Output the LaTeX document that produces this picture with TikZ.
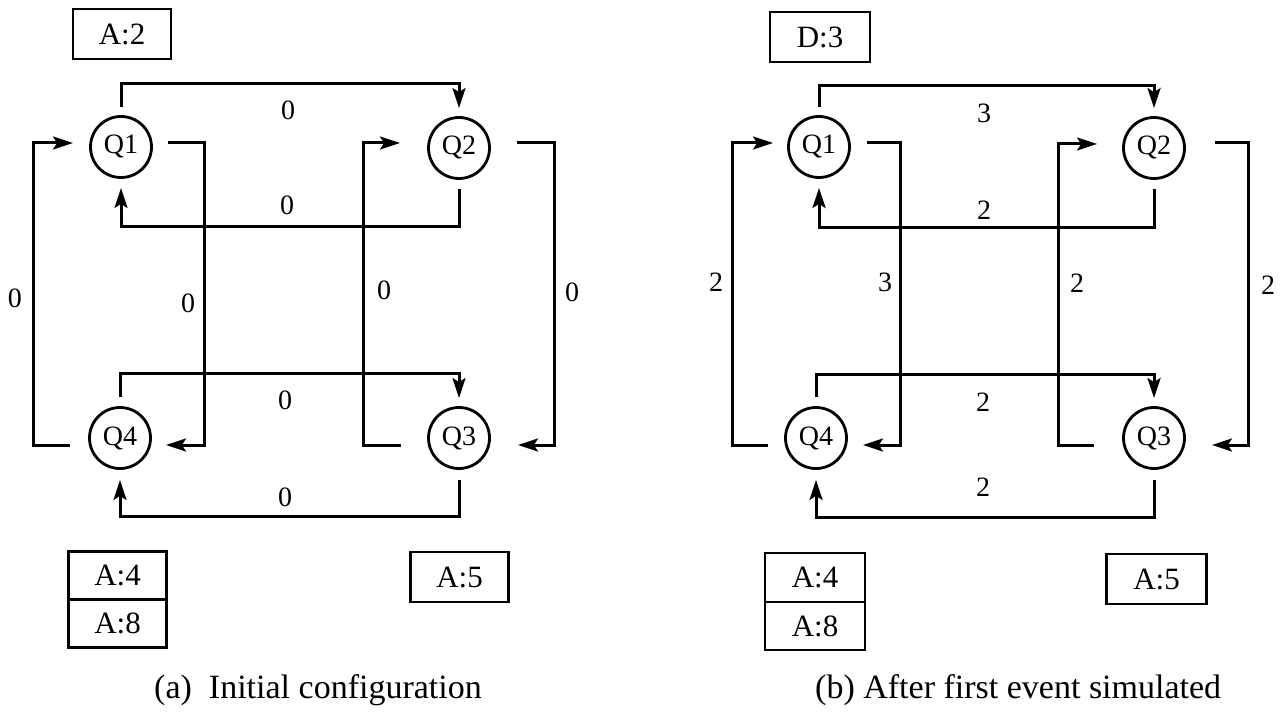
\documentclass[tikz,border=0pt]{standalone}
\usepackage{fontspec}
\setmainfont{Liberation Serif}
\usetikzlibrary{arrows.meta,calc}
\begin{document}
\begin{tikzpicture}[x=1pt,y=-1pt,
  queue/.style={circle,draw,line width=2.8pt,minimum size=61pt,inner sep=0pt,font=\fontsize{28}{30}\selectfont},
  conn/.style={line width=3pt,-{Stealth[length=20pt,width=13pt,inset=4pt]}},
  lbl/.style={inner sep=0pt,font=\fontsize{28}{30}\selectfont},
  evbox/.style={draw,line width=2.6pt,minimum width=98pt,minimum height=50pt,inner sep=0pt,font=\fontsize{31}{33}\selectfont},
  captext/.style={inner sep=0pt,anchor=base west,font=\fontsize{34}{36}\selectfont}]
\useasboundingbox[fill=white] (0,0) rectangle (1286,714);

% ---------- (a) initial configuration ----------
\node[queue] (a1) at (121,147) {Q1};
\node[queue] (a2) at (459,148) {Q2};
\node[queue] (a3) at (459,438) {Q3};
\node[queue] (a4) at (120,438) {Q4};

\draw[conn] ([yshift=8pt]a1.north) -- ++(0,-24) -| ([yshift=8pt]a2.north);
\draw[conn] ([yshift=-9pt]a2.south) -- ++(0,38) -| ([yshift=-9pt]a1.south);
\draw[conn] ($(a1.east)+(15,-4)$) -- ++(37,0) |- ($(a4.east)+(14,7)$);
\draw[conn] ($(a4.west)+(-18,7)$) -- ++(-37,0) |- ($(a1.west)+(-16,-4)$);
\draw[conn] ($(a3.west)+(-26,7)$) -- ++(-38,0) |- ($(a2.west)+(-27,-5)$);
\draw[conn] ($(a2.east)+(26,-5)$) -- ++(38,0) |- ($(a3.east)+(27,7)$);
\draw[conn] ([yshift=9pt]a4.north) -- ++(0,-24) -| ([yshift=8pt]a3.north);
\draw[conn] ([yshift=-10pt]a3.south) -- ++(0,37) -| ([yshift=-10pt]a4.south);

\node[lbl] (la12) at (288,110) {0};
\node[lbl] (la21) at (287,205) {0};
\node[lbl] (la41) at (15,298) {0};
\node[lbl] (la14) at (188,303) {0};
\node[lbl] (la32) at (384,290) {0};
\node[lbl] (la23) at (572,292) {0};
\node[lbl] (la43) at (285,400) {0};
\node[lbl] (la34) at (285,497) {0};

\node[evbox] (ea2) at (122,34) {A:2};
\node[evbox,minimum height=48pt] (ea4) at (117.5,575.5) {A:4};
\node[evbox,minimum height=48pt] (ea8) at (117.5,623.5) {A:8};
\node[evbox] (ea5) at (459.5,577) {A:5};

\node[captext] (capa) at (154,698) {(a)\ \ Initial configuration};

% ---------- (b) after first event ----------
\node[queue] (b1) at (819,147) {Q1};
\node[queue] (b2) at (1154,148) {Q2};
\node[queue] (b3) at (1154,438) {Q3};
\node[queue] (b4) at (816,438) {Q4};

\draw[conn] ([yshift=8pt]b1.north) -- ++(0,-22) -| ([yshift=8pt]b2.north);
\draw[conn] ([yshift=-9pt]b2.south) -- ++(0,39) -| ([yshift=-9pt]b1.south);
\draw[conn] ($(b1.east)+(16,-4)$) -- ++(34,0) |- ($(b4.east)+(15,7)$);
\draw[conn] ($(b4.west)+(-16,7)$) -- ++(-36,0) |- ($(b1.west)+(-14,-4)$);
\draw[conn] ($(b3.west)+(-28,7)$) -- ++(-36,0) |- ($(b2.west)+(-25,-4)$);
\draw[conn] ($(b2.east)+(29,-5)$) -- ++(34,0) |- ($(b3.east)+(26,7)$);
\draw[conn] ([yshift=9pt]b4.north) -- ++(0,-23) -| ([yshift=8pt]b3.north);
\draw[conn] ([yshift=-10pt]b3.south) -- ++(0,38) -| ([yshift=-10pt]b4.south);

\node[lbl] (lb12) at (984,113) {3};
\node[lbl] (lb21) at (984,210) {2};
\node[lbl] (lb41) at (716,282) {2};
\node[lbl] (lb14) at (885,282) {3};
\node[lbl] (lb32) at (1077,283) {2};
\node[lbl] (lb23) at (1268,285) {2};
\node[lbl] (lb43) at (983,402) {2};
\node[lbl] (lb34) at (983,487) {2};

\node[evbox,minimum width=100pt] (ed3) at (820,37) {D:3};
\node[evbox,minimum width=100pt,minimum height=49pt] (eb4) at (815,577.5) {A:4};
\node[evbox,minimum width=100pt,minimum height=48pt] (eb8) at (815,626) {A:8};
\node[evbox,minimum width=100pt] (eb5) at (1156.5,579) {A:5};

\node[captext] (capb) at (815,698) {(b) After first event simulated};
\end{tikzpicture}
\end{document}
